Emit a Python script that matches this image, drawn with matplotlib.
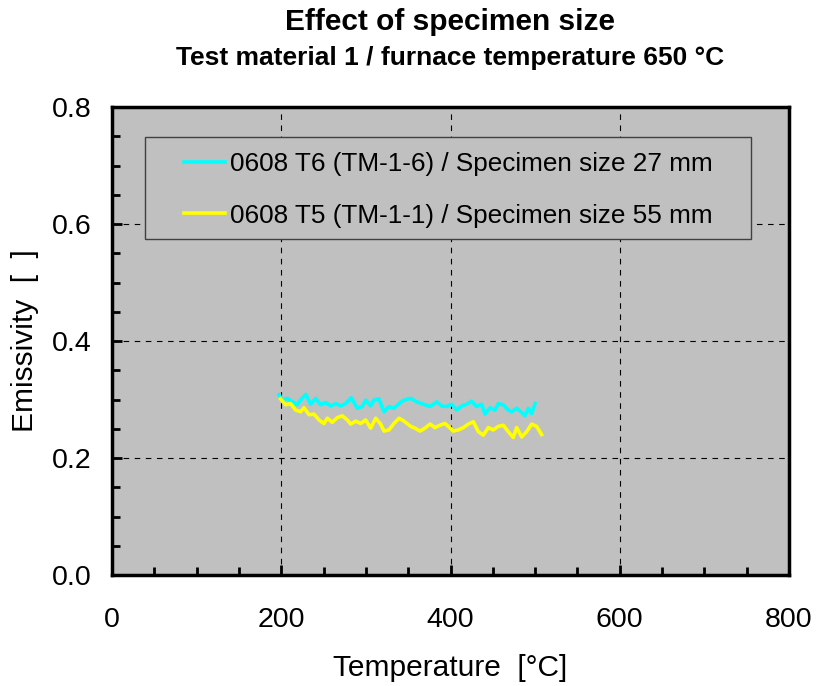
import matplotlib
matplotlib.use("Agg")
import matplotlib.pyplot as plt
from matplotlib.ticker import MultipleLocator, FormatStrFormatter
from matplotlib.patches import Rectangle

plt.rcParams['font.family'] = ['Liberation Sans', 'DejaVu Sans']

# ---- data ----
t6_temp = [197.3, 201.3, 207.2, 213.1, 219.0, 222.9, 228.9, 234.8, 240.7, 246.6, 252.5, 258.4,
           264.3, 270.2, 276.1, 282.8, 289.9, 295.8, 299.8, 305.7, 309.6, 315.5, 321.4, 327.3,
           333.2, 339.2, 345.1, 352.9, 360.0, 367.9, 375.8, 383.7, 389.6, 395.5, 401.4, 407.3,
           413.2, 419.1, 425.0, 430.9, 436.8, 440.8, 446.7, 452.6, 456.5, 462.4, 468.3, 472.3,
           478.2, 484.1, 488.0, 492.0, 495.9, 499.9]
t6_emis = [0.308, 0.299, 0.302, 0.296, 0.291, 0.299, 0.309, 0.292, 0.302, 0.291, 0.295, 0.289,
           0.293, 0.289, 0.293, 0.303, 0.285, 0.288, 0.299, 0.289, 0.299, 0.301, 0.279, 0.288,
           0.285, 0.293, 0.299, 0.302, 0.296, 0.292, 0.288, 0.296, 0.289, 0.288, 0.292, 0.282,
           0.289, 0.292, 0.297, 0.288, 0.292, 0.275, 0.286, 0.282, 0.293, 0.291, 0.282, 0.279,
           0.285, 0.278, 0.272, 0.285, 0.276, 0.293]

t5_temp = [199.3, 205.2, 211.1, 217.0, 222.9, 226.9, 232.8, 238.7, 244.6, 250.5, 254.5, 260.4,
           266.3, 272.2, 278.1, 282.0, 287.9, 293.8, 299.8, 305.7, 311.6, 317.5, 321.4, 327.3,
           333.2, 339.2, 345.1, 352.9, 358.1, 364.0, 369.9, 375.8, 381.7, 387.6, 393.5, 397.4,
           403.3, 409.2, 415.2, 421.1, 427.0, 432.9, 438.8, 444.7, 450.6, 456.5, 462.4, 468.3,
           474.2, 478.2, 484.1, 490.0, 495.9, 501.8, 507.7]
t5_emis = [0.301, 0.291, 0.293, 0.282, 0.279, 0.286, 0.274, 0.275, 0.265, 0.259, 0.268, 0.261,
           0.269, 0.272, 0.265, 0.258, 0.263, 0.259, 0.265, 0.251, 0.268, 0.258, 0.246, 0.248,
           0.259, 0.268, 0.263, 0.254, 0.251, 0.246, 0.251, 0.258, 0.252, 0.256, 0.259, 0.254,
           0.246, 0.248, 0.252, 0.258, 0.262, 0.245, 0.239, 0.252, 0.248, 0.254, 0.256, 0.245,
           0.235, 0.252, 0.236, 0.245, 0.258, 0.254, 0.240]

labels = ["0608 T6 (TM-1-6) / Specimen size 27 mm",
          "0608 T5 (TM-1-1) / Specimen size 55 mm"]
colors = ["#00ffff", "#ffff00"]

title = "Effect of specimen size"
subtitle = "Test material 1 / furnace temperature 650 °C"

fig = plt.figure(figsize=(8.16, 6.86), dpi=100)
ax = fig.add_axes([112/816, 111/686, 677/816, 468/686])
ax.set_facecolor("#c0c0c0")

ax.plot(t6_temp, t6_emis, color=colors[0], lw=2.6, label=labels[0], zorder=4)
ax.plot(t5_temp, t5_emis, color=colors[1], lw=2.6, label=labels[1], zorder=4)

ax.set_xlim(0, 800)
ax.set_ylim(0, 0.8)
ax.xaxis.set_major_locator(MultipleLocator(200))
ax.xaxis.set_minor_locator(MultipleLocator(50))
ax.yaxis.set_major_locator(MultipleLocator(0.2))
ax.yaxis.set_minor_locator(MultipleLocator(0.05))
ax.yaxis.set_major_formatter(FormatStrFormatter('%.1f'))

ax.set_axisbelow(True)
ax.grid(True, which='major', color='black', linestyle=(0, (5, 5)), linewidth=0.8)
ax.tick_params(which='both', direction='in', top=False, right=False, width=2, color='black')
ax.tick_params(which='major', length=7, labelsize=20.5)
ax.tick_params(which='minor', length=6)
ax.tick_params(axis='x', which='major', pad=23)
ax.tick_params(axis='y', which='major', pad=15)
for s in ax.spines.values():
    s.set_linewidth(2.5)
    s.set_color('black')
    s.set_zorder(6)

ax.set_xlabel("Temperature  [°C]", fontsize=21.5, labelpad=15)
ax.set_ylabel("Emissivity  [  ]", fontsize=21.5)
ax.yaxis.set_label_coords(-0.108, 0.5)

fig.text(450/816, 1 - 22/686, title, ha='center', va='center', fontsize=21.5, fontweight='bold')
fig.text(450/816, 1 - 58/686, subtitle, ha='center', va='center', fontsize=19, fontweight='bold')

# legend frame
ax.add_patch(Rectangle((0.0487, 0.7179), 0.8952, 0.2180, transform=ax.transAxes,
                       facecolor="#c0c0c0", edgecolor="#404040", linewidth=1.0, zorder=3))
leg = ax.legend(loc='center left', bbox_to_anchor=(0.1064, 0.823), fontsize=18.8,
                frameon=False, handlelength=1.55, handletextpad=0.22, borderpad=0,
                labelspacing=1.05, borderaxespad=0)
for h in leg.get_lines():
    h.set_linewidth(2.6)
leg.set_zorder(5)

fig.savefig("out.png", dpi=100)
